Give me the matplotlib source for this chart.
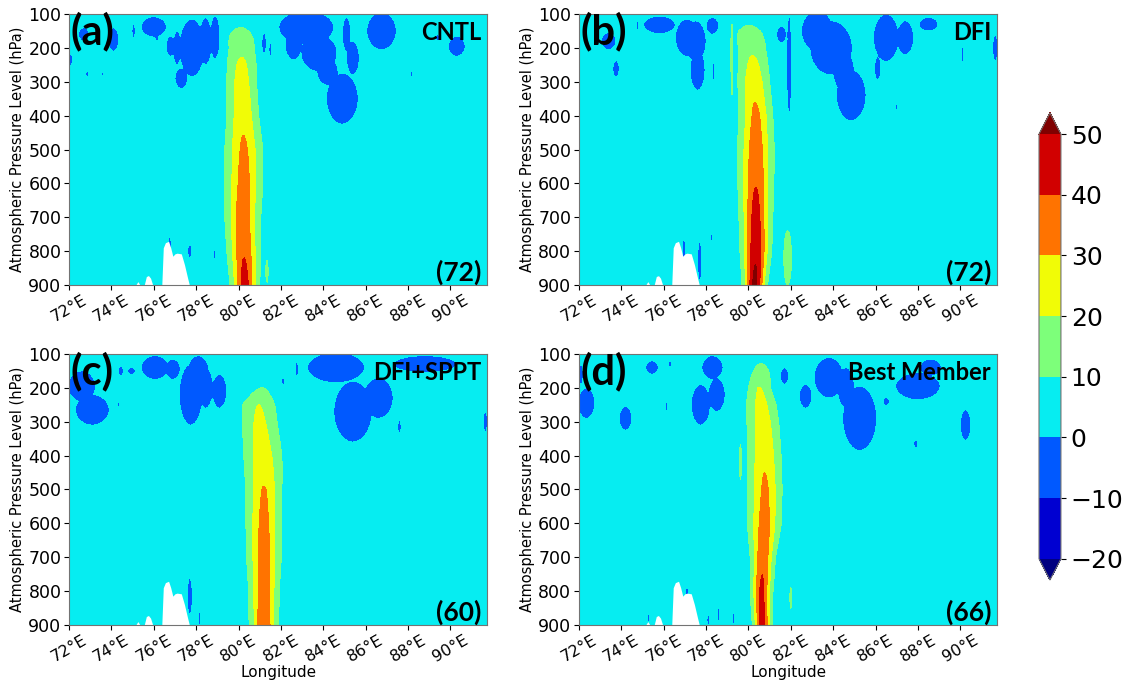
"""
Sezioni verticali longitudine-pressione per quattro esperimenti (CNTL, DFI, DFI+SPPT, Best Member).
Il campo viene ricostruito da parametri letti dalla figura e disegnato con contourf.
"""
import numpy as np
import matplotlib.pyplot as plt

# Etichette dei pannelli
panel_tags = ["(a)", "(b)", "(c)", "(d)"]
panel_names = ["CNTL", "DFI", "DFI+SPPT", "Best Member"]
panel_counts = ["(72)", "(72)", "(60)", "(66)"]

# Livelli di contorno e tick
levels = [-20, -10, 0, 10, 20, 30, 40, 50]
lon_ticks = [72, 74, 76, 78, 80, 82, 84, 86, 88, 90]
p_ticks = [100, 200, 300, 400, 500, 600, 700, 800, 900]

# Valore di fondo (banda 0-10)
background = 4

# Colonna convettiva: livelli, picco, centro e semi-larghezza del contorno 10
col_p = [100, 150, 200, 250, 300, 400, 500, 600, 700, 800, 900]

peak_a = [6, 11, 17.5, 22, 25, 28, 31.5, 34, 36.5, 39, 44]
center_a = [80.1, 80.1, 80.15, 80.15, 80.15, 80.2, 80.25, 80.25, 80.2, 80.25, 80.3]
halfw_a = [0.3, 0.35, 0.59, 0.68, 0.7, 0.75, 0.9, 0.9, 0.85, 0.8, 0.7]

peak_b = [6, 12, 18, 22.5, 27, 32, 36, 39.5, 44, 48, 53]
center_b = [80.0, 80.05, 80.17, 80.22, 80.25, 80.35, 80.35, 80.35, 80.35, 80.35, 80.3]
halfw_b = [0.3, 0.5, 0.63, 0.7, 0.75, 0.8, 0.87, 0.85, 0.8, 0.75, 0.6]

peak_c = [3, 7, 10, 20, 22, 25, 30.5, 33, 35, 37, 39]
center_c = [81.2, 81.2, 81.1, 80.95, 81.0, 81.15, 81.2, 81.2, 81.2, 81.2, 81.2]
halfw_c = [0.2, 0.2, 0.3, 0.76, 0.82, 0.9, 0.85, 0.85, 0.82, 0.72, 0.7]

peak_d = [6, 13, 20.3, 23, 25, 28.5, 31.5, 34, 38, 42, 45]
center_d = [80.55, 80.6, 80.52, 80.6, 80.68, 80.75, 80.78, 80.75, 80.68, 80.62, 80.65]
halfw_d = [0.3, 0.35, 0.52, 0.7, 0.75, 0.79, 0.81, 0.8, 0.6, 0.54, 0.47]

# Zone negative (banda -10..0): (lon, p, semi-larghezza lon, semi-altezza p)
neg_a = [(72.05, 235, 0.12, 18), (72.7, 160, 0.25, 20), (74.1, 175, 0.25, 35),
         (72.86, 277, 0.07, 8), (73.57, 277, 0.05, 8), (75.05, 150, 0.08, 20),
         (76.0, 138, 0.6, 30), (76.15, 165, 0.1, 15), (76.1, 270, 0.04, 15),
         (76.8, 195, 0.22, 30), (77.8, 200, 0.6, 85), (77.3, 290, 0.3, 30),
         (77.1, 200, 0.2, 50), (78.45, 180, 0.3, 70), (78.9, 170, 0.25, 65),
         (81.2, 185, 0.12, 35), (81.5, 205, 0.06, 25), (83.2, 140, 1.3, 50),
         (82.6, 190, 0.4, 45), (83.8, 215, 0.85, 55), (84.2, 270, 0.5, 40),
         (84.9, 350, 0.75, 75), (85.4, 230, 0.3, 50), (85.1, 160, 0.2, 50),
         (86.75, 150, 0.7, 55), (88.15, 277, 0.05, 10), (89.4, 170, 0.1, 10),
         (90.3, 195, 0.4, 30), (76.75, 790, 0.08, 35), (77.7, 800, 0.1, 20),
         (78.86, 810, 0.04, 18)]
neg_b = [(73.75, 262, 0.15, 25), (73.4, 180, 0.35, 25), (74.75, 135, 0.06, 15),
         (75.8, 132, 0.75, 26), (77.1, 170, 0.55, 55), (77.5, 180, 0.5, 60),
         (77.6, 265, 0.35, 60), (78.3, 135, 0.3, 25), (78.35, 270, 0.05, 30),
         (81.55, 160, 0.25, 25), (81.92, 250, 0.12, 150), (83.25, 150, 0.75, 60),
         (83.9, 200, 1.0, 80), (84.5, 270, 0.5, 60), (84.85, 340, 0.7, 75),
         (86.5, 170, 0.6, 70), (87.4, 170, 0.4, 50), (86.1, 260, 0.15, 35),
         (88.5, 130, 0.45, 20), (90.1, 220, 0.06, 25), (91.65, 200, 0.12, 40),
         (87.0, 375, 0.05, 12), (88.9, 325, 0.03, 10), (76.95, 795, 0.07, 35),
         (77.7, 830, 0.1, 60), (78.27, 760, 0.04, 20), (75.75, 885, 0.05, 15)]
neg_c = [(72.6, 195, 0.65, 45), (73.1, 265, 0.8, 45), (74.45, 150, 0.12, 15),
         (74.35, 250, 0.04, 10), (74.95, 150, 0.2, 10), (76.05, 140, 0.65, 35),
         (76.9, 145, 0.35, 30), (77.75, 220, 0.55, 90), (78.1, 150, 0.5, 45),
         (78.45, 200, 0.35, 60), (79.1, 210, 0.35, 50), (82.1, 180, 0.06, 15),
         (82.75, 145, 0.07, 25), (84.6, 140, 1.35, 45), (85.4, 270, 0.9, 90),
         (86.6, 230, 0.7, 60), (88.8, 130, 1.5, 25), (87.6, 315, 0.08, 20),
         (91.65, 300, 0.1, 30), (77.7, 815, 0.12, 55), (78.15, 880, 0.06, 22)]
neg_d = [(72.35, 245, 0.4, 45), (72.1, 160, 0.1, 30), (74.2, 290, 0.3, 35),
         (75.45, 140, 0.3, 20), (76.3, 130, 0.08, 10), (76.15, 255, 0.05, 20),
         (77.75, 250, 0.45, 60), (78.5, 220, 0.4, 50), (78.3, 140, 0.5, 35),
         (81.7, 165, 0.2, 25), (82.7, 225, 0.3, 35), (83.8, 170, 0.7, 60),
         (84.6, 200, 0.4, 60), (85.25, 290, 0.8, 95), (86.5, 240, 0.15, 12),
         (88.0, 195, 1.05, 40), (88.6, 140, 0.5, 25), (90.25, 310, 0.25, 45),
         (87.9, 365, 0.1, 12), (88.85, 430, 0.04, 10), (77.1, 815, 0.07, 30),
         (75.28, 880, 0.04, 18), (78.1, 885, 0.06, 18), (78.6, 870, 0.05, 28),
         (79.3, 880, 0.04, 20)]

# Piccole celle positive (banda 10-20)
pos_a = [(81.35, 860, 0.05, 30)]
pos_b = [(81.85, 820, 0.18, 80), (79.22, 235, 0.04, 90)]
pos_c = []
pos_d = [(82.0, 820, 0.05, 30), (79.62, 420, 0.05, 45)]

# Orografia (pressione al suolo)
terrain_lon = [75.15, 75.25, 75.35, 75.55, 75.65, 75.75, 75.85, 75.95, 76.38, 76.45,
               76.55, 76.7, 76.8, 76.9, 77.0, 77.1, 77.3, 77.45, 77.6, 77.68]
terrain_p = [900, 890, 900, 900, 875, 872, 880, 900, 900, 790,
             775, 771, 790, 815, 808, 806, 808, 840, 880, 900]

peaks = [peak_a, peak_b, peak_c, peak_d]
centers = [center_a, center_b, center_c, center_d]
halfws = [halfw_a, halfw_b, halfw_c, halfw_d]
negs = [neg_a, neg_b, neg_c, neg_d]
poss = [pos_a, pos_b, pos_c, pos_d]

# Griglia
lon = np.linspace(72, 91.75, 400)
pres = np.linspace(100, 900, 321)
LON, P = np.meshgrid(lon, pres)


def make_field(peak, center, halfw, neg, pos):
    amp = np.array(peak, dtype=float) - background
    ratio = amp / (10 - background)
    sig = np.where(ratio > 1.05, np.array(halfw) / np.sqrt(np.log(np.maximum(ratio, 1.05))), 0.5)
    amp_f = np.interp(pres, col_p, np.clip(amp, 0, None))[:, None]
    cen_f = np.interp(pres, col_p, center)[:, None]
    sig_f = np.interp(pres, col_p, sig)[:, None]
    field = background + amp_f * np.exp(-((LON - cen_f) / sig_f) ** 2)

    low = np.zeros_like(LON)
    for lo, pc, dl, dp in neg:
        r2 = ((LON - lo) / dl) ** 2 + ((P - pc) / dp) ** 2
        low = np.minimum(low, -2 * background * np.exp(-np.log(2) * r2 ** 2))
    high = np.zeros_like(LON)
    for lo, pc, dl, dp in pos:
        r2 = ((LON - lo) / dl) ** 2 + ((P - pc) / dp) ** 2
        high += 9 * np.exp(-np.log(1.5) * r2 ** 2)
    return field + low + high


fig = plt.figure(figsize=(11.37, 6.84), dpi=100)
lefts = [0.0607, 0.5092, 0.0607, 0.5092]
bottoms = [0.5833, 0.5833, 0.0863, 0.0863]

label_font = dict(family=["Lato", "DejaVu Sans"], weight="bold")

for i in range(4):
    ax = fig.add_axes([lefts[i], bottoms[i], 0.368, 0.3962])
    z = make_field(peaks[i], centers[i], halfws[i], negs[i], poss[i])
    cf = ax.contourf(lon, pres, z, levels=levels, cmap="jet", extend="both")
    ax.fill_between(terrain_lon, terrain_p, 900, color="white", lw=0, zorder=2)

    ax.set_xlim(72, 91.75)
    ax.set_ylim(900, 100)
    ax.set_xticks(lon_ticks)
    ax.set_xticklabels([f"{t}°E" for t in lon_ticks], rotation=30)
    ax.set_yticks(p_ticks)
    ax.tick_params(axis="x", labelsize=11.5, pad=2)
    ax.tick_params(axis="y", labelsize=12.5, pad=2)
    ax.set_ylabel("Atmospheric Pressure Level (hPa)", fontsize=10.5, labelpad=2)
    if i >= 2:
        ax.set_xlabel("Longitude", fontsize=11, labelpad=0)
    for s in ax.spines.values():
        s.set_color("0.45")
        s.set_linewidth(0.8)

    ax.text(0.004, 1.01, panel_tags[i], transform=ax.transAxes, ha="left", va="top",
            fontsize=30, zorder=5, **label_font)
    ax.text(0.985, 0.975, panel_names[i], transform=ax.transAxes, ha="right", va="top",
            fontsize=17, zorder=5, **label_font)
    ax.text(0.985, 0.0, panel_counts[i], transform=ax.transAxes, ha="right", va="bottom",
            fontsize=19, zorder=5, **label_font)

# Barra dei colori
cax = fig.add_axes([0.9138, 0.152, 0.0193, 0.683])
cb = fig.colorbar(cf, cax=cax, ticks=levels)
cb.ax.tick_params(labelsize=18)
cb.outline.set_edgecolor("0.45")

fig.savefig("out.png", dpi=100)
